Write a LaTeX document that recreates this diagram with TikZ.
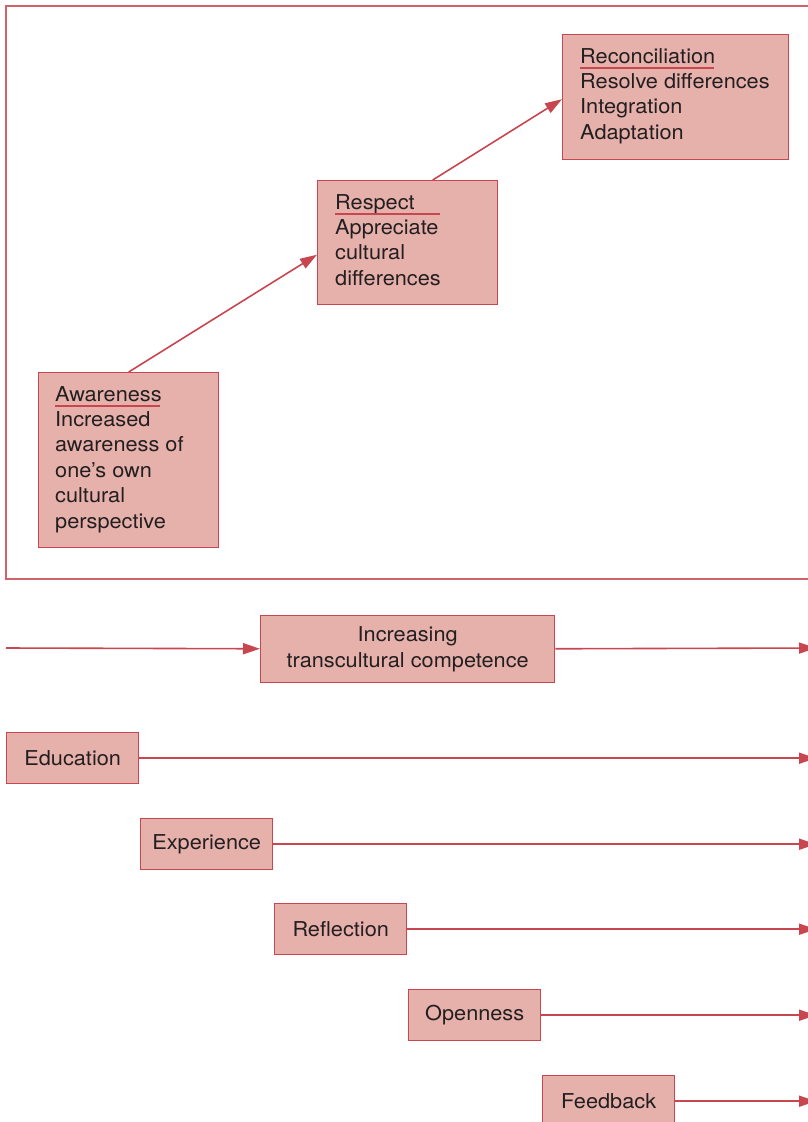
\documentclass[tikz,border=0pt]{standalone}
\usepackage{fontspec}
\setmainfont[FakeStretch=1.06]{TeX Gyre Heros}
\usetikzlibrary{positioning}
\usetikzlibrary{calc}
\usetikzlibrary{arrows.meta}
\definecolor{boxfill}{HTML}{E6B0AB}
\definecolor{boxline}{HTML}{C8464F}
\definecolor{textdark}{HTML}{231F20}
\tikzset{
  stagebox/.style={draw=boxline, fill=boxfill, line width=1.4pt, anchor=north west, inner sep=0pt},
  stagetext/.style={anchor=north west, align=left, inner sep=0pt, text=textdark, font=\fontsize{20.5}{25.4}\selectfont},
  factorbox/.style={draw=boxline, fill=boxfill, line width=1.4pt, anchor=north west, minimum width=132pt, minimum height=51pt, inner sep=0pt, align=center, text=textdark, font=\fontsize{20.5}{25.4}\selectfont},
  link/.style={draw=boxline, line width=1.6pt, -{Triangle[length=17pt,width=11pt]}},
  headline/.style={draw=boxline, line width=1.2pt}
}

\begin{document}
\begin{tikzpicture}[x=1pt,y=-1pt]
            \useasboundingbox (0,0) rectangle (808,1122);
            % frame around the three stages
            \draw[boxline!85, line width=1.4pt] (814,6) -- (6,6) -- (6,579) -- (814,579);
            % stages
            \node[stagebox, minimum width=180pt, minimum height=175pt] (aware) at (38,372) {};
            \node[stagebox, minimum width=180pt, minimum height=124pt] (respect) at (317,180) {};
            \node[stagebox, minimum width=226pt, minimum height=125pt] (recon) at (562,34) {};
            \node[stagetext] (awaretxt) at (55,386) {Awareness\\Increased\\awareness of\\one’s own\\cultural\\perspective};
            \node[stagetext] (respecttxt) at (335,194) {Respect\\Appreciate\\cultural\\differences};
            \node[stagetext] (recontxt) at (580,48) {Reconciliation\\Resolve differences\\Integration\\Adaptation};
            \draw[headline] (55,406) -- (160,406);
            \draw[headline] (335,214) -- (440,214);
            \draw[headline] (580,68) -- (714,68);
            \draw[link] (aware.north) -- ($(respect.west)+(0,12)$);
            \draw[link] ($(respect.north)+(25,0)$) -- ($(recon.west)+(0,2)$);
            % competence line
            \node[factorbox, minimum width=294pt, minimum height=67pt] (compet) at (260,615) {Increasing\\transcultural competence};
            \coordinate (compin) at (6,648);
            \coordinate (compout) at (816,648);
            \draw[link] (compin) -- (compet);
            \draw[link] (compet) -- (compout);
            % factors
            \node[factorbox] (educ) at (6,732) {Education};
            \node[factorbox] (exper) at (140,818) {Experience};
            \node[factorbox] (refl) at (274,903) {Reflection};
            \node[factorbox] (open) at (408,989) {Openness};
            \node[factorbox] (feed) at (542,1075) {Feedback};
            \foreach \f in {educ,exper,refl,open,feed}
              \draw[link] (\f.east) -- (\f.east -| compout);
        \end{tikzpicture}
\end{document}
